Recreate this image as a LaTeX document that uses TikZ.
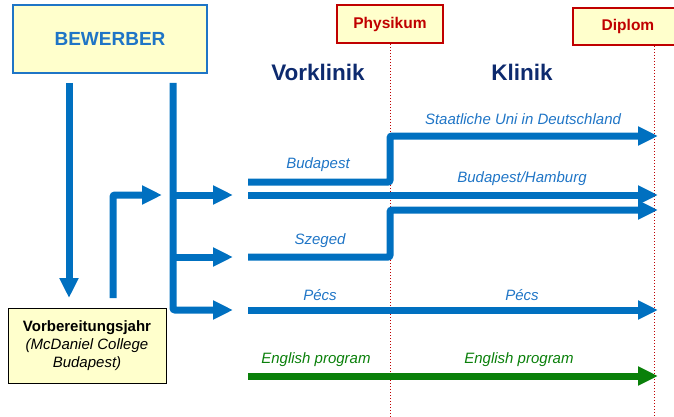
\documentclass[tikz,border=0pt]{standalone}
\usepackage{fontspec}
\setmainfont{Liberation Sans}
\usetikzlibrary{arrows.meta}
\definecolor{lblue}{HTML}{0070C0}
\definecolor{tblue}{HTML}{1F75C6}
\definecolor{navy}{HTML}{0D2A6E}
\definecolor{dred}{HTML}{C00000}
\definecolor{pyell}{HTML}{FFFFCC}
\definecolor{dgreen}{HTML}{0A800A}
\tikzset{
  flow/.style={line width=7pt, draw=lblue, rounded corners=2pt, -{Triangle[length=20pt,width=18pt]}},
  flowline/.style={line width=7pt, draw=lblue, rounded corners=2pt},
  lbl/.style={font=\fontsize{15}{18}\selectfont\itshape, text=tblue, inner sep=0pt},
  milestone/.style={draw=dred, line width=2pt, fill=pyell, font=\fontsize{15.5}{18}\selectfont\bfseries, text=dred, inner sep=0pt},
  phase/.style={font=\fontsize{22.5}{26}\selectfont\bfseries, text=navy, inner sep=0pt},
  guide/.style={draw=dred, line width=1pt, dotted}
}
\begin{document}
\begin{tikzpicture}[x=1pt,y=-1pt]
\useasboundingbox (0,0) rectangle (674,417);
% boxes
\node[draw=tblue, line width=2pt, fill=pyell, minimum width=194pt, minimum height=68pt, font=\fontsize{19}{22}\selectfont\bfseries, text=tblue] (bew) at (110,39) {BEWERBER};
\node[milestone, minimum width=106pt, minimum height=38pt] (phys) at (390,24) {Physikum};
\node[milestone, minimum width=110pt, minimum height=37pt] (dipl) at (628,26.5) {Diplom};
\node[phase] (vork) at (318,72) {Vorklinik};
\node[phase] (klin) at (522,72) {Klinik};
\node[draw=black, line width=1pt, fill=pyell, minimum width=158pt, minimum height=75pt, align=center, font=\fontsize{15}{18}\selectfont] (vorb) at (87,345.5) {\textbf{Vorbereitungsjahr}\\\textit{(McDaniel College}\\\textit{Budapest)}};
% guides
\coordinate (g1t) at (390,44); \coordinate (g1b) at (390,417);
\coordinate (g2t) at (654,46); \coordinate (g2b) at (654,417);
\draw[guide] (g1t) -- (g1b);
\draw[guide] (g2t) -- (g2b);
% left flows
\coordinate (l1) at (69,83); \coordinate (l1e) at (69,298);
\coordinate (m1) at (113,298); \coordinate (m1c) at (113,195); \coordinate (m1e) at (162,195);
\coordinate (r1) at (173,83); \coordinate (r1c) at (173,310); \coordinate (r1e) at (233,310);
\coordinate (b1) at (173,195); \coordinate (b1e) at (233,195);
\coordinate (b2) at (173,257); \coordinate (b2e) at (233,257);
\draw[flow] (l1) -- (l1e);
\draw[flow] (m1) -- (m1c) -- (m1e);
\draw[flow] (r1) -- (r1c) -- (r1e);
\draw[flow] (b1) -- (b1e);
\draw[flow] (b2) -- (b2e);
% right flows
\coordinate (bu0) at (248,182); \coordinate (bu1) at (390,182); \coordinate (bu2) at (390,136); \coordinate (bu3) at (658,136);
\coordinate (bh0) at (248,195); \coordinate (bh1) at (658,195);
\coordinate (sz0) at (248,257); \coordinate (sz1) at (390,257); \coordinate (sz2) at (390,210); \coordinate (sz3) at (658,210);
\coordinate (pc0) at (248,310); \coordinate (pc1) at (658,310);
\coordinate (en0) at (248,376); \coordinate (en1) at (658,376);
\draw[flow] (bu0) -- (bu1) -- (bu2) -- (bu3);
\draw[flow] (bh0) -- (bh1);
\draw[flow] (sz0) -- (sz1) -- (sz2) -- (sz3);
\draw[flow] (pc0) -- (pc1);
\draw[flow, draw=dgreen, fill=dgreen] (en0) -- (en1);
% labels
\node[lbl] (t1) at (318,165) {Budapest};
\node[lbl] (t2) at (523,119) {Staatliche Uni in Deutschland};
\node[lbl] (t3) at (522,179) {Budapest/Hamburg};
\node[lbl] (t4) at (320,241) {Szeged};
\node[lbl] (t5) at (320,295) {Pécs};
\node[lbl] (t6) at (522,295) {Pécs};
\node[lbl, text=dgreen] (t7) at (316,360) {English program};
\node[lbl, text=dgreen] (t8) at (519,360) {English program};
\end{tikzpicture}
\end{document}
